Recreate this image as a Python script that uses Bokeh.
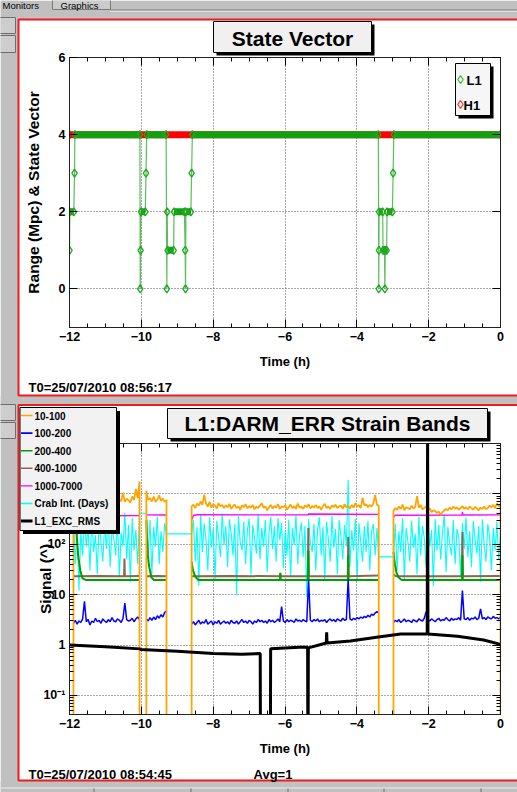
import numpy as np
from bokeh.plotting import figure
from bokeh.models import Label, LinearAxis, LogAxis, FixedTicker, Range1d
from bokeh.layouts import column
from bokeh.embed import file_html
from bokeh.resources import INLINE

FONT = "Liberation Sans"
GRAY = "#c0c0c0"
PAD_RED = "#ee1c1c"

# ---------------------------------------------------------------- State vector pad
# L1 state vector: times (h) and values at every change of state
L1_T = [-12.00, -11.99, -11.88, -11.86, -11.85, -10.04, -10.03, -10.02, -10.01, -9.89,
        -9.87, -9.85, -9.31, -9.29, -9.28, -9.27, -9.10, -9.09, -8.80, -8.78,
        -8.77, -8.76, -8.62, -8.60, -8.58, -3.40, -3.39, -3.385, -3.38, -3.28,
        -3.27, -3.23, -3.22, -3.21, -3.17, -3.16, -3.01, -2.99, -2.97, 0.0]
L1_V = [1, 2, 2, 3, 4, 4, 0, 1, 2, 2,
        3, 4, 4, 0, 2, 1, 1, 2, 2, 1,
        0, 2, 2, 3, 4, 4, 0, 1, 2, 2,
        1, 1, 0, 1, 1, 2, 2, 3, 4, 4]
# H1 stayed in state 4 over the whole window
H1_T = [-12.0, 0.0]
H1_V = [4, 4]

X_MAJOR = [-12, -10, -8, -6, -4, -2, 0]
X_MINOR = [-12 + 0.5 * i for i in range(25)]
Y1_MAJOR = [0, 2, 4, 6]

# ---------------------------------------------------------------- Strain band pad
# lock stretches (h); the band channels drop out between them
LOCK_SEGMENTS = [(-11.89, -10.05), (-9.86, -9.30), (-8.60, -3.39), (-2.98, 0.0)]

# 10-100 Hz band, evenly sampled inside each lock stretch
BAND_10_100 = [
    [820, 690, 760, 640, 880, 720, 660, 790, 700, 950, 680, 740, 620, 810, 730, 690, 870,
     650, 760, 700, 830, 640, 720, 900, 680, 770, 710, 1050, 690, 800, 740, 660, 880, 760,
     1250, 820, 1750],
    [1150, 760, 820, 700, 880, 690, 760, 930, 720, 810, 690, 760],
    [560, 610, 520, 640, 580, 700, 600, 960, 640, 560, 690, 530, 620, 580, 510, 650, 560,
     600, 520, 590, 540, 630, 500, 570, 610, 520, 560, 480, 590, 540, 620, 510, 570, 530,
     600, 490, 560, 520, 580, 650, 530, 560, 470, 540, 600, 510, 570, 530, 620, 500, 560,
     540, 590, 480, 550, 610, 520, 570, 500, 640, 530, 560, 500, 590, 540, 620, 510, 570,
     530, 600, 520, 560, 480, 570, 630, 520, 560, 500, 590, 540, 610, 520, 560, 580, 500,
     620, 540, 570, 510, 600, 530, 650, 560, 590, 520, 830, 580, 620, 540, 600, 560, 640,
     950, 600, 580],
    [450, 520, 480, 560, 500, 610, 470, 540, 520, 490, 580, 510, 550, 900, 530, 600, 490,
     520, 560, 480, 510, 430, 470, 450, 420, 440, 380, 430, 470, 500, 470, 530, 490, 560,
     500, 540, 480, 520, 570, 500, 540, 490, 560, 520, 480, 550, 510, 470, 530, 500, 560,
     490, 520, 580, 540, 600, 520, 640, 560, 600],
]
# 100-200 Hz band
BAND_100_200 = [
    [2.7, 3.1, 2.6, 3.0, 2.8, 3.3, 7.4, 2.9, 3.2, 2.5, 3.0, 2.8, 3.4, 2.9, 3.1, 2.7, 3.3,
     3.0, 2.8, 3.2, 2.9, 3.5, 3.0, 2.9, 3.3, 3.1, 2.8, 3.4, 6.8, 3.2, 3.0, 3.1, 3.4, 2.9,
     3.3, 3.6, 3.2],
    [3.3, 3.0, 3.5, 3.1, 3.6, 3.2, 3.8, 3.4, 4.0, 3.6, 4.4, 4.8],
    [2.6, 2.9, 2.5, 2.8, 3.1, 2.6, 2.9, 2.7, 3.2, 2.6, 2.8, 3.0, 2.5, 2.9, 2.7, 3.1, 2.6,
     2.8, 3.0, 2.7, 2.9, 2.6, 3.1, 2.8, 2.7, 3.0, 2.6, 2.9, 3.2, 2.8, 3.0, 2.7, 3.1, 2.9,
     2.6, 3.0, 2.8, 3.2, 2.9, 3.1, 2.8, 3.0, 2.7, 3.2, 2.9, 3.1, 2.8, 3.0, 3.3, 2.9, 5.8,
     3.0, 2.8, 3.2, 2.9, 3.1, 3.0, 2.8, 3.3, 3.0, 3.1, 2.9, 3.2, 3.0, 2.9, 20.0, 3.1, 2.9,
     3.2, 3.0, 3.3, 2.9, 3.1, 3.0, 3.2, 2.8, 3.1, 3.3, 3.0, 3.2, 2.9, 3.3, 3.1, 3.0, 3.4,
     3.1, 3.2, 20.0, 3.3, 3.1, 3.4, 3.2, 3.5, 3.3, 3.6, 3.4, 3.7, 3.5, 3.9, 3.6, 4.1, 3.9,
     4.3, 4.6, 4.4],
    [2.8, 3.1, 2.9, 3.2, 2.8, 3.0, 3.3, 2.9, 3.1, 3.0, 2.8, 3.2, 3.0, 2.9, 3.3, 3.1, 3.0,
     3.4, 4.6, 3.2, 3.0, 3.3, 3.1, 2.9, 3.2, 3.4, 3.0, 3.2, 3.1, 3.5, 3.2, 3.0, 3.4, 3.1,
     3.3, 3.2, 3.5, 3.1, 12.0, 3.3, 3.2, 3.5, 3.1, 3.4, 3.3, 3.6, 3.2, 3.4, 5.2, 3.3, 3.5,
     3.2, 3.6, 3.4, 3.3, 3.7, 3.4, 3.5, 3.3, 3.6],
]
# Crab integration (days); held across the gaps
CRAB_DAYS = [
    [300, 40, 250, 12, 180, 60, 350, 90, 220, 30, 400, 70, 150, 25, 320, 110, 45, 260, 80,
     380, 35, 200, 130, 60, 300, 22, 170, 90, 420, 50, 240, 18, 330, 75, 190, 40, 400],
    [400, 60, 300, 25, 220, 90, 350, 40, 180, 70, 260, 160],
    [160, 300, 45, 220, 15, 380, 70, 260, 120, 30, 340, 85, 200, 20, 290, 140, 55, 410, 95,
     230, 35, 310, 160, 60, 250, 10, 360, 110, 75, 280, 40, 190, 320, 25, 240, 130, 65, 400,
     50, 210, 90, 300, 28, 170, 350, 80, 230, 45, 330, 120, 260, 33, 180, 60, 300, 22, 210,
     95, 380, 40, 150, 270, 55, 230, 9, 310, 105, 70, 250, 30, 190, 340, 60, 220, 20, 280,
     125, 45, 360, 85, 200, 25, 300, 140, 50, 240, 90, 1900, 35, 190, 75, 320, 20, 260, 110,
     45, 230, 70, 290, 30, 180, 250, 60, 210, 56],
    [56, 250, 30, 180, 70, 330, 20, 210, 110, 45, 290, 85, 160, 25, 350, 60, 230, 130, 35,
     270, 90, 190, 15, 310, 75, 240, 50, 170, 380, 28, 220, 100, 60, 300, 40, 200, 140, 22,
     260, 80, 340, 55, 180, 35, 290, 120, 65, 230, 18, 310, 95, 45, 250, 140, 30, 210, 75,
     280, 50, 160],
]
# slowly varying bands: (time h, value) per lock stretch
BAND_200_400 = [
    [(-11.89, 1500), (-11.85, 600), (-11.80, 150), (-11.76, 60), (-11.70, 30), (-11.64, 21),
     (-11.55, 19.5), (-10.05, 19.5)],
    [(-9.86, 300), (-9.82, 60), (-9.78, 35), (-9.72, 22), (-9.65, 19.5), (-9.30, 19.5)],
    [(-8.60, 45), (-8.56, 30), (-8.50, 23), (-8.42, 19.5), (-6.14, 19.5), (-6.13, 27),
     (-6.12, 19.5), (-5.36, 19.5), (-5.35, 75), (-5.34, 19.5), (-4.25, 19.5), (-4.24, 60),
     (-4.23, 19.5), (-3.39, 19.5)],
    [(-2.98, 70), (-2.94, 40), (-2.90, 28), (-2.84, 22), (-2.75, 19.5), (-1.07, 19.5),
     (-1.06, 60), (-1.05, 19.5), (0.0, 19.5)],
]
BAND_400_1000 = [
    [(-11.89, 23), (-11.2, 23.5), (-10.48, 23), (-10.47, 52), (-10.46, 23), (-10.05, 23.5)],
    [(-9.86, 23), (-9.55, 23.5), (-9.30, 23)],
    [(-8.60, 23), (-7.5, 23.5), (-6.14, 23), (-6.13, 26), (-6.12, 23), (-5.36, 23),
     (-5.35, 210), (-5.34, 23), (-4.25, 23), (-4.24, 140), (-4.23, 23), (-3.39, 24)],
    [(-2.98, 25), (-2.90, 23), (-1.07, 23), (-1.06, 175), (-1.05, 23), (0.0, 23.5)],
]
BAND_1000_7000 = [
    [(-11.89, 360), (-11.0, 365), (-10.05, 368)],
    [(-9.86, 380), (-9.30, 378)],
    [(-8.60, 300), (-8.55, 370), (-8.45, 382), (-5.36, 380), (-5.35, 395), (-3.39, 390)],
    [(-2.98, 340), (-2.93, 375), (-1.07, 378), (-1.06, 440), (-1.05, 378), (0.0, 380)],
]
# excitation RMS (continuous channel, zero while the excitation is off)
EXC_RMS_T = [-12.0, -11.0, -10.04, -10.02, -9.0, -8.0, -7.2, -6.69, -6.68, -6.41, -6.40,
             -6.0, -5.6, -5.37, -5.36, -5.35, -4.85, -4.84, -4.83, -4.18, -3.4, -2.78,
             -2.04, -2.03, -2.02, -1.2, -0.47, 0.0]
EXC_RMS_V = [1.0, 0.93, 0.84, 0.82, 0.75, 0.68, 0.66, 0.68, 0.0, 0.0, 0.84,
             0.87, 0.9, 0.9, 0.0, 0.88, 1.1, 1.8, 1.1, 1.2, 1.44, 1.65,
             1.66, 20000, 1.66, 1.5, 1.26, 1.03]

Y2_MAJOR = [0.1, 1, 10, 100, 1000]
Y2_MINOR = [m * 10.0 ** e for e in range(-2, 4) for m in range(2, 10)]
Y2_LABELS = {0.1: "10⁻¹", 1: "1", 10: "10", 100: "10²", 1000: ""}

LEGEND_ROWS = [("10-100", "#ffa500", 1.6), ("100-200", "#0000ff", 1.6), ("200-400", "#00a000", 1.6),
               ("400-1000", "#8b6452", 1.6), ("1000-7000", "#ff00ff", 1.4),
               ("Crab Int. (Days)", "#00ffff", 1.6), ("L1_EXC_RMS", "black", 3.0)]

FLOOR = 1e-3   # stand-in for zero on the log axis


# ---------------------------------------------------------------- helpers
def style_axis(ax):
    ax.axis_line_color = "#222222"
    ax.major_tick_line_color = "black"
    ax.minor_tick_line_color = "black"
    ax.major_tick_in = 8
    ax.major_tick_out = 0
    ax.minor_tick_in = 4
    ax.minor_tick_out = 0
    ax.major_label_text_font = FONT
    ax.major_label_text_font_style = "bold"
    ax.major_label_text_font_size = "12.5px"
    ax.major_label_text_color = "black"
    ax.major_label_standoff = 4
    ax.axis_label_text_font = FONT
    ax.axis_label_text_font_style = "bold"
    ax.axis_label_text_color = "black"


def mirror_axis(ax):
    style_axis(ax)
    ax.major_label_text_font_size = "1px"
    ax.major_label_standoff = 0


def style_grid(g, ticks):
    g.ticker = FixedTicker(ticks=ticks)
    g.grid_line_color = "#555555"
    g.grid_line_dash = "1 2"
    g.grid_line_width = 1


def gated(segment_values):
    """Evenly sampled band: drops to zero between lock stretches."""
    xs, ys = [-12.0], [FLOOR]
    for (a, b), vals in zip(LOCK_SEGMENTS, segment_values):
        t = np.linspace(a, b, len(vals))
        xs += [a] + list(t) + [b]
        ys += [FLOOR] + list(vals) + [FLOOR]
    return xs, ys


def broken(segment_points):
    """Piecewise band: line broken between lock stretches."""
    xs, ys = [], []
    for pts in segment_points:
        xs += [t for t, _ in pts] + [np.nan]
        ys += [v for _, v in pts] + [np.nan]
    return xs, ys


def sampled_broken(segment_values):
    xs, ys = [], []
    for (a, b), vals in zip(LOCK_SEGMENTS, segment_values):
        xs += list(np.linspace(a, b, len(vals))) + [np.nan]
        ys += list(vals) + [np.nan]
    return xs, ys


# ================================================================ upper pad
p1 = figure(width=517, height=400, x_range=Range1d(-12, 0), y_range=Range1d(-1, 6),
            output_backend="svg", toolbar_location=None,
            min_border_left=69, min_border_right=17, min_border_top=57, min_border_bottom=73,
            border_fill_color="white", background_fill_color="white",
            outline_line_color="#222222")

style_axis(p1.xaxis[0])
style_axis(p1.yaxis[0])
p1.xaxis.ticker = FixedTicker(ticks=X_MAJOR, minor_ticks=X_MINOR)
p1.yaxis.ticker = FixedTicker(ticks=Y1_MAJOR)
p1.xaxis.axis_label = "Time (h)"
p1.xaxis.axis_label_text_font_size = "13px"
p1.xaxis.axis_label_standoff = 10
p1.yaxis.axis_label = "Range (Mpc) & State Vector"
p1.yaxis.axis_label_text_font_size = "15.5px"
p1.yaxis.axis_label_standoff = 14
top1 = LinearAxis(ticker=FixedTicker(ticks=X_MAJOR, minor_ticks=X_MINOR),
                  major_label_overrides={t: "" for t in X_MAJOR})
right1 = LinearAxis(ticker=FixedTicker(ticks=Y1_MAJOR),
                    major_label_overrides={t: "" for t in Y1_MAJOR})
mirror_axis(top1)
mirror_axis(right1)
p1.add_layout(top1, "above")
p1.add_layout(right1, "right")
style_grid(p1.xgrid[0], X_MAJOR)
style_grid(p1.ygrid[0], Y1_MAJOR)

# H1 underneath, L1 on top
p1.line(H1_T, H1_V, line_color="#ff0000", line_width=7)
p1.scatter(H1_T, H1_V, marker="diamond", size=9, fill_color="#ff0000", line_color="#ff0000")
p1.line(L1_T, L1_V, line_color="#22aa22", line_width=1.2, line_alpha=0.75)
runs = [(L1_T[i], L1_T[i + 1], L1_V[i]) for i in range(len(L1_T) - 1) if L1_V[i] == L1_V[i + 1]]
p1.segment(x0=[r[0] for r in runs], y0=[r[2] for r in runs],
           x1=[r[1] for r in runs], y1=[r[2] for r in runs],
           line_color="#10a010", line_width=7)
p1.scatter(L1_T, L1_V, marker="diamond", size=8, fill_color=None,
           line_color="#20a820", line_width=1.3)

# ================================================================ lower pad
p2 = figure(width=517, height=392, x_range=Range1d(-12, 0), y_range=Range1d(0.042, 9.9e3),
            y_axis_type="log", output_backend="svg", toolbar_location=None,
            min_border_left=69, min_border_right=17, min_border_top=43, min_border_bottom=78,
            border_fill_color="white", background_fill_color="white",
            outline_line_color="#222222")

style_axis(p2.xaxis[0])
style_axis(p2.yaxis[0])
p2.xaxis.ticker = FixedTicker(ticks=X_MAJOR, minor_ticks=X_MINOR)
p2.yaxis.ticker = FixedTicker(ticks=Y2_MAJOR, minor_ticks=Y2_MINOR)
p2.yaxis.major_label_overrides = Y2_LABELS
p2.xaxis.axis_label = "Time (h)"
p2.xaxis.axis_label_text_font_size = "13px"
p2.xaxis.axis_label_standoff = 10
p2.yaxis.axis_label = "Signal (^)"
p2.yaxis.axis_label_text_font_size = "15.5px"
p2.yaxis.axis_label_standoff = -14
top2 = LinearAxis(ticker=FixedTicker(ticks=X_MAJOR, minor_ticks=X_MINOR),
                  major_label_overrides={t: "" for t in X_MAJOR})
right2 = LogAxis(ticker=FixedTicker(ticks=Y2_MAJOR, minor_ticks=Y2_MINOR),
                 major_label_overrides={t: "" for t in Y2_MAJOR})
mirror_axis(top2)
mirror_axis(right2)
p2.add_layout(top2, "above")
p2.add_layout(right2, "right")
style_grid(p2.xgrid[0], X_MAJOR)
style_grid(p2.ygrid[0], Y2_MAJOR)

# Crab integration is continuous across the gaps
crab_x, crab_y = [], []
for (a, b), vals in zip(LOCK_SEGMENTS, CRAB_DAYS):
    crab_x += list(np.linspace(a, b, len(vals)))
    crab_y += list(vals)
p2.line(crab_x, crab_y, line_color="#00ffff", line_width=1.1)

mx, my = broken(BAND_1000_7000)
p2.line(mx, my, line_color="#ff00ff", line_width=1.4)
bx, by = broken(BAND_400_1000)
p2.line(bx, by, line_color="#8b6452", line_width=2)
gx, gy = broken(BAND_200_400)
p2.line(gx, gy, line_color="#00a000", line_width=2)
ux, uy = sampled_broken(BAND_100_200)
p2.line(ux, uy, line_color="#0000ff", line_width=1.5)
ox, oy = gated(BAND_10_100)
p2.line(ox, oy, line_color="#ffa500", line_width=1.8)
ey = [v if v > 0 else FLOOR for v in EXC_RMS_V]
p2.line(EXC_RMS_T, ey, line_color="black", line_width=3)

# ================================================================ window chrome, drawn on top
chrome = figure(width=517, height=792, x_range=Range1d(0, 517), y_range=Range1d(792, 0),
                output_backend="svg", toolbar_location=None, title=None,
                x_axis_location=None, y_axis_location=None, min_border=0,
                border_fill_color=None, background_fill_color=None, outline_line_color=None,
                margin=(-792, 0, 0, 0), frame_align=False)
chrome.xgrid.visible = False
chrome.ygrid.visible = False


def label(x, y, text, size, align="left", bold=True, color="black"):
    # y is the vertical centre of the capitals
    chrome.add_layout(Label(x=x, y=y, text=text, text_font=FONT, text_font_size=f"{size}px",
                            text_font_style="bold" if bold else "normal",
                            text_align=align, text_baseline="middle", text_color=color))


def box(l, t, r, b, fill=None, line=None, lw=1):
    chrome.quad(left=[l], right=[r], top=[t], bottom=[b],
                fill_color=fill, fill_alpha=1.0 if fill else 0.0,
                line_color=line, line_alpha=1.0 if line else 0.0, line_width=lw)


# gray window around the two pads
box(0, 0, 517, 18.5, fill=GRAY)
box(0, 0, 17.5, 792, fill=GRAY)
box(0, 395.5, 517, 403.5, fill=GRAY)
box(0, 780.5, 517, 792, fill=GRAY)
# tab strip
box(52, -2, 110, 9, fill="#cbcbcb", line="#7a7a7a")
box(110, 9, 517, 9.8, fill="#7a7a7a")
box(110, 10.5, 517, 11.3, fill="#eeeeee")
label(2, 4.5, "Monitors", 9.5, bold=False)
label(60, 4.5, "Graphics", 9.5, bold=False)
# side buttons
for bt, bb in [(17, 33), (35, 52), (404, 420), (422, 438)]:
    box(-2, bt, 15, bb, fill="#cdcdcd", line="#6e6e6e")
# tab bar under the lower pad
box(0, 787, 517, 788, fill="#eeeeee")
for sx in (93, 190, 287, 383, 480):
    box(sx, 788, sx + 1, 794, fill="#6e6e6e")
# red pad borders
box(18, 19, 519, 395, line=PAD_RED, lw=2)
box(18, 404.5, 519, 780, line=PAD_RED, lw=2)


def title_box(l, t, r, b, text, dy):
    box(l + 3, t + 3, r + 3, b + 3, fill="black")
    box(l, t, r, b, fill="#f0f0f0", line="black")
    label((l + r) / 2, (t + b) / 2 + dy, text, 21, align="center")


title_box(213, 21, 371, 52, "State Vector", 1.5)
title_box(167, 408, 487, 438, "L1:DARM_ERR Strain Bands", 0)

# state-vector legend
box(458, 66, 493, 118, fill="black")
box(455, 63, 490, 115, fill="#f6f6f6", line="black")
chrome.scatter([460, 460], [79, 104], marker="diamond", size=8, fill_color=None,
               line_color=["#33bb33", "#ff3333"], line_width=1.2)
label(466, 79.5, "L1", 13)
label(463, 104.5, "H1", 13)

# strain-band legend, over the corner of the lower frame
box(22.5, 410.5, 119.5, 533.5, fill="black")
box(19.5, 407, 116, 530, fill="#f2f2f2", line="black")
for i, (name, col, lw) in enumerate(LEGEND_ROWS):
    cy = 415 + i * 17.6
    chrome.segment(x0=[20.5], y0=[cy], x1=[32], y1=[cy], line_color=col, line_width=lw)
    label(34, cy, name, 10)

label(28, 387, "T0=25/07/2010 08:56:17", 13)
label(28, 773.5, "T0=25/07/2010 08:54:45", 13)
label(253, 773.5, "Avg=1", 13)

page = column(p1, p2, chrome, spacing=0)
open("out.html", "w").write(file_html(page, INLINE, "L1 state vector and strain bands"))
